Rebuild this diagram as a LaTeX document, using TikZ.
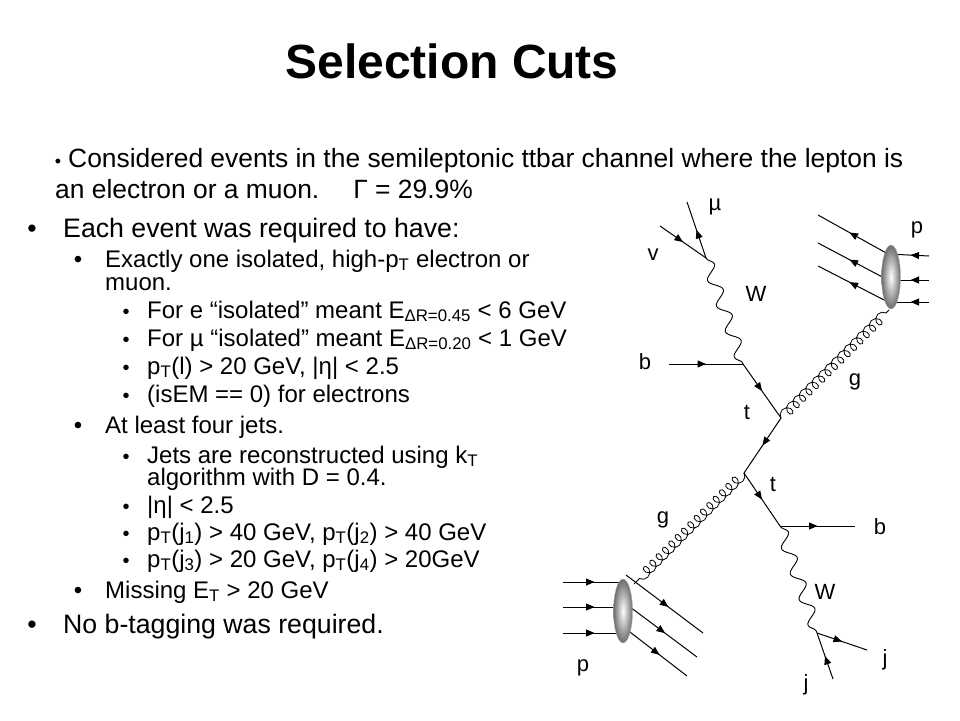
\documentclass[tikz,border=0pt]{standalone}
\usepackage{fontspec}
\setmainfont{Liberation Sans}
\usetikzlibrary{arrows.meta,decorations.markings,decorations.pathmorphing,shapes.geometric}

\tikzset{
  fermion/.style={line width=1pt, postaction={decorate, decoration={markings, mark=at position #1 with {\arrow{Triangle[length=8.5pt,width=7pt]}}}}},
  fermion/.default=0.5,
  wboson/.style={line width=0.9pt, decorate, decoration={snake, amplitude=6pt, segment length=27pt}},
  gluon/.style={line width=0.8pt, decorate, decoration={coil, aspect=0.9, amplitude=5pt, segment length=9pt}},
  proton/.style={ellipse, minimum width=19pt, minimum height=64pt, inner sep=0pt, draw=gray!60, shading=radial, inner color=white, outer color=gray!85!black},
  part/.style={font=\fontsize{22}{22}\selectfont, inner sep=0pt},
  intro/.style={anchor=base west, inner sep=0pt, font=\fontsize{26.4}{30}\selectfont},
  lvlone/.style={anchor=base west, inner sep=0pt, font=\fontsize{26.7}{30}\selectfont},
  lvltwo/.style={anchor=base west, inner sep=0pt, font=\fontsize{24}{28}\selectfont},
  dot/.style={anchor=base, inner sep=0pt}
}

\begin{document}
\begin{tikzpicture}[x=1pt, y=-1pt]
            \useasboundingbox[fill=white] (0,0) rectangle (960,720);

            % title and intro
            \node[anchor=base, inner sep=0pt, font=\fontsize{48}{48}\selectfont\bfseries] (title) at (452,78) {Selection Cuts};
            \node[dot, font=\fontsize{18}{18}\selectfont] (bi) at (58,167) {•};
            \node[intro] (ti1) at (68,167) {Considered events in the semileptonic ttbar channel where the lepton is};
            \node[intro] (ti2) at (55,198) {an electron or a muon.\hspace{34pt}Γ = 29.9\%};

            % cuts
            \node[dot, font=\fontsize{26.7}{30}\selectfont] (b1) at (32,237) {•};
            \node[lvlone] (t1) at (63,237) {Each event was required to have:};
            \node[dot, font=\fontsize{24}{28}\selectfont] (b2) at (78,267) {•};
            \node[lvltwo] (t2) at (105,267) {Exactly one isolated, high-p\textsubscript{T} electron or};
            \node[lvltwo] (t2b) at (105,290) {muon.};
            \node[dot, font=\fontsize{20}{24}\selectfont] (b3) at (126,318) {•};
            \node[lvltwo] (t3) at (147,318) {For e “isolated” meant E\textsubscript{ΔR=0.45} < 6 GeV};
            \node[dot, font=\fontsize{20}{24}\selectfont] (b4) at (126,346) {•};
            \node[lvltwo] (t4) at (147,346) {For µ “isolated” meant E\textsubscript{ΔR=0.20} < 1 GeV};
            \node[dot, font=\fontsize{20}{24}\selectfont] (b5) at (126,374) {•};
            \node[lvltwo] (t5) at (147,374) {p\textsubscript{T}(l) > 20 GeV, |η| < 2.5};
            \node[dot, font=\fontsize{20}{24}\selectfont] (b6) at (126,402) {•};
            \node[lvltwo] (t6) at (147,402) {(isEM == 0) for electrons};
            \node[dot, font=\fontsize{24}{28}\selectfont] (b7) at (78,433) {•};
            \node[lvltwo] (t7) at (105,433) {At least four jets.};
            \node[dot, font=\fontsize{20}{24}\selectfont] (b8) at (126,463) {•};
            \node[lvltwo] (t8) at (147,463) {Jets are reconstructed using k\textsubscript{T}};
            \node[lvltwo] (t8b) at (147,485) {algorithm with D = 0.4.};
            \node[dot, font=\fontsize{20}{24}\selectfont] (b9) at (126,513) {•};
            \node[lvltwo] (t9) at (147,513) {|η| < 2.5};
            \node[dot, font=\fontsize{20}{24}\selectfont] (b10) at (126,540) {•};
            \node[lvltwo] (t10) at (147,540) {p\textsubscript{T}(j\textsubscript{1}) > 40 GeV, p\textsubscript{T}(j\textsubscript{2}) > 40 GeV};
            \node[dot, font=\fontsize{20}{24}\selectfont] (b11) at (126,567) {•};
            \node[lvltwo] (t11) at (147,567) {p\textsubscript{T}(j\textsubscript{3}) > 20 GeV, p\textsubscript{T}(j\textsubscript{4}) > 20GeV};
            \node[dot, font=\fontsize{24}{28}\selectfont] (b12) at (78,598) {•};
            \node[lvltwo] (t12) at (105,598) {Missing E\textsubscript{T} > 20 GeV};
            \node[dot, font=\fontsize{26.7}{30}\selectfont] (b13) at (32,633) {•};
            \node[lvlone] (t13) at (63,633) {No b-tagging was required.};

            % vertices and free ends
            \coordinate (vwu) at (706,258);
            \coordinate (mu) at (687,202);
            \coordinate (nu) at (660,226);
            \coordinate (vtu) at (743,364);
            \coordinate (bu) at (669,364);
            \coordinate (vgu) at (781,418);
            \coordinate (vgd) at (744,473);
            \coordinate (vtd) at (780,526);
            \coordinate (bd) at (855,526);
            \coordinate (vwd) at (817,633);
            \coordinate (jr) at (867,650);
            \coordinate (jd) at (833,679);
            \coordinate (gu) at (889,310);
            \coordinate (gd) at (634,584);

            % upper proton ends
            \coordinate (pua) at (888,254);
            \coordinate (pub) at (888,280);
            \coordinate (puc) at (888,302);
            \coordinate (qua) at (818,215);
            \coordinate (qub) at (818,243);
            \coordinate (quc) at (818,266);
            \coordinate (rua) at (929,256);
            \coordinate (rub) at (929,280);
            \coordinate (ruc) at (929,302);
            % lower proton ends
            \coordinate (pda) at (626,582);
            \coordinate (pdb) at (626,607);
            \coordinate (pdc) at (626,633);
            \coordinate (qda) at (563,582);
            \coordinate (qdb) at (563,607);
            \coordinate (qdc) at (563,633);
            \coordinate (sda) at (626,575);
            \coordinate (sdb) at (626,604);
            \coordinate (sdc) at (626,629);
            \coordinate (tda) at (703,633);
            \coordinate (tdb) at (697,657);
            \coordinate (tdc) at (687,676);

            % top decay
            \draw[fermion] (vwu) -- (mu);
            \draw[fermion] (nu) -- (vwu);
            \draw[wboson] (vwu) -- (vtu);
            \draw[fermion] (bu) -- (vtu);
            \draw[fermion] (vtu) -- (vgu);
            \draw[fermion] (vgu) -- (vgd);
            \draw[fermion] (vgd) -- (vtd);
            \draw[fermion] (vtd) -- (bd);
            \draw[wboson] (vtd) -- (vwd);
            \draw[fermion] (vwd) -- (jr);
            \draw[fermion] (jd) -- (vwd);
            \draw[gluon] (vgu) -- (gu);
            \draw[gluon] (vgd) -- (gd);

            % protons
            \draw[fermion=0.55] (pua) -- (qua);
            \draw[fermion=0.55] (pub) -- (qub);
            \draw[fermion=0.55] (puc) -- (quc);
            \draw[fermion=0.45] (rua) -- (pua);
            \draw[fermion=0.45] (rub) -- (pub);
            \draw[fermion=0.45] (ruc) -- (puc);
            \draw[fermion=0.5] (qda) -- (pda);
            \draw[fermion=0.5] (qdb) -- (pdb);
            \draw[fermion=0.5] (qdc) -- (pdc);
            \draw[fermion=0.55] (sda) -- (tda);
            \draw[fermion=0.55] (sdb) -- (tdb);
            \draw[fermion=0.55] (sdc) -- (tdc);
            \node[proton] (pu) at (891,277) {};
            \node[proton] (pd) at (623,611) {};

            % labels
            \node[part] (lmu) at (715,207) {µ};
            \node[part] (lnu) at (653,255) {v};
            \node[part] (lwu) at (756,294) {W};
            \node[part] (lbu) at (645,362) {b};
            \node[part] (ltu) at (747,412) {t};
            \node[part] (lgu) at (855,382) {g};
            \node[part] (lpu) at (917,230) {p};
            \node[part] (ltd) at (773,484) {t};
            \node[part] (lgd) at (663,520) {g};
            \node[part] (lbd) at (880,527) {b};
            \node[part] (lwd) at (825,592) {W};
            \node[part] (ljr) at (885,660) {j};
            \node[part] (ljd) at (806,685) {j};
            \node[part] (lpd) at (583,668) {p};
\end{tikzpicture}
\end{document}
